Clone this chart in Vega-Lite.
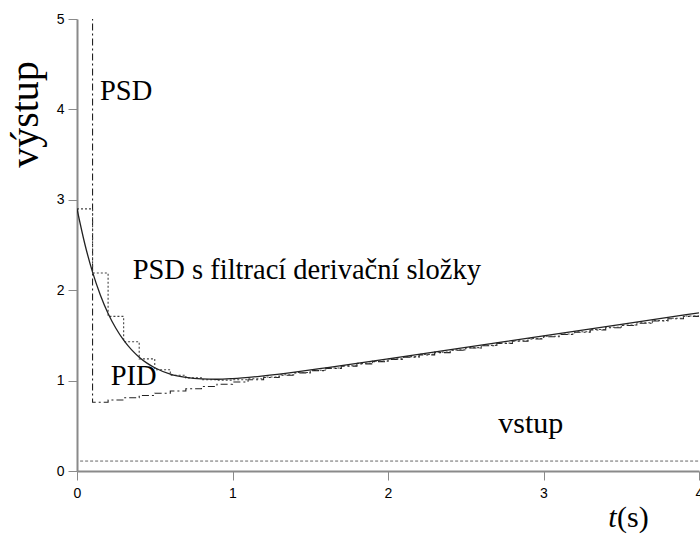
{
  "$schema": "https://vega.github.io/schema/vega-lite/v6.json",
  "width": 622,
  "height": 452,
  "autosize": {"type": "none"},
  "padding": {"left": 77, "top": 19, "right": 1, "bottom": 63},
  "background": "white",
  "config": {"view": {"stroke": null}},
  "datasets": {
    "curves": [
      {"t": 0, "y": 2.9, "s": "PID"}, {"t": 0.05, "y": 2.514, "s": "PID"}, {"t": 0.1, "y": 2.2, "s": "PID"}, {"t": 0.15, "y": 1.948, "s": "PID"},
      {"t": 0.2, "y": 1.743, "s": "PID"}, {"t": 0.25, "y": 1.579, "s": "PID"}, {"t": 0.3, "y": 1.447, "s": "PID"}, {"t": 0.35, "y": 1.342, "s": "PID"},
      {"t": 0.4, "y": 1.259, "s": "PID"}, {"t": 0.45, "y": 1.193, "s": "PID"}, {"t": 0.5, "y": 1.142, "s": "PID"}, {"t": 0.6, "y": 1.072, "s": "PID"},
      {"t": 0.7, "y": 1.035, "s": "PID"}, {"t": 0.8, "y": 1.018, "s": "PID"}, {"t": 0.9, "y": 1.015, "s": "PID"}, {"t": 1.0, "y": 1.022, "s": "PID"},
      {"t": 1.2, "y": 1.053, "s": "PID"}, {"t": 1.4, "y": 1.094, "s": "PID"}, {"t": 1.6, "y": 1.141, "s": "PID"}, {"t": 1.8, "y": 1.19, "s": "PID"},
      {"t": 2.0, "y": 1.24, "s": "PID"}, {"t": 2.5, "y": 1.368, "s": "PID"}, {"t": 3.0, "y": 1.495, "s": "PID"}, {"t": 3.5, "y": 1.623, "s": "PID"},
      {"t": 4.0, "y": 1.75, "s": "PID"},

      {"t": 0, "y": 30, "s": "PSD"}, {"t": 0.1, "y": 0.76, "s": "PSD"}, {"t": 0.2, "y": 0.785, "s": "PSD"}, {"t": 0.3, "y": 0.81, "s": "PSD"},
      {"t": 0.4, "y": 0.835, "s": "PSD"}, {"t": 0.5, "y": 0.86, "s": "PSD"}, {"t": 0.6, "y": 0.885, "s": "PSD"}, {"t": 0.7, "y": 0.91, "s": "PSD"},
      {"t": 0.8, "y": 0.935, "s": "PSD"}, {"t": 0.9, "y": 0.96, "s": "PSD"}, {"t": 1.0, "y": 0.985, "s": "PSD"}, {"t": 1.1, "y": 1.01, "s": "PSD"},
      {"t": 1.2, "y": 1.035, "s": "PSD"}, {"t": 1.3, "y": 1.06, "s": "PSD"}, {"t": 1.4, "y": 1.085, "s": "PSD"}, {"t": 1.5, "y": 1.11, "s": "PSD"},
      {"t": 1.6, "y": 1.135, "s": "PSD"}, {"t": 1.7, "y": 1.16, "s": "PSD"}, {"t": 1.8, "y": 1.185, "s": "PSD"}, {"t": 1.9, "y": 1.21, "s": "PSD"},
      {"t": 2.0, "y": 1.235, "s": "PSD"}, {"t": 2.1, "y": 1.26, "s": "PSD"}, {"t": 2.2, "y": 1.285, "s": "PSD"}, {"t": 2.3, "y": 1.31, "s": "PSD"},
      {"t": 2.4, "y": 1.335, "s": "PSD"}, {"t": 2.5, "y": 1.36, "s": "PSD"}, {"t": 2.6, "y": 1.385, "s": "PSD"}, {"t": 2.7, "y": 1.41, "s": "PSD"},
      {"t": 2.8, "y": 1.435, "s": "PSD"}, {"t": 2.9, "y": 1.46, "s": "PSD"}, {"t": 3.0, "y": 1.485, "s": "PSD"}, {"t": 3.1, "y": 1.51, "s": "PSD"},
      {"t": 3.2, "y": 1.535, "s": "PSD"}, {"t": 3.3, "y": 1.56, "s": "PSD"}, {"t": 3.4, "y": 1.585, "s": "PSD"}, {"t": 3.5, "y": 1.61, "s": "PSD"},
      {"t": 3.6, "y": 1.635, "s": "PSD"}, {"t": 3.7, "y": 1.66, "s": "PSD"}, {"t": 3.8, "y": 1.685, "s": "PSD"}, {"t": 3.9, "y": 1.71, "s": "PSD"},
      {"t": 4.0, "y": 1.735, "s": "PSD"},

      {"t": 0, "y": 2.9, "s": "PSDF"}, {"t": 0.1, "y": 2.19, "s": "PSDF"}, {"t": 0.2, "y": 1.71, "s": "PSDF"}, {"t": 0.3, "y": 1.43, "s": "PSDF"},
      {"t": 0.4, "y": 1.24, "s": "PSDF"}, {"t": 0.5, "y": 1.12, "s": "PSDF"}, {"t": 0.6, "y": 1.06, "s": "PSDF"}, {"t": 0.7, "y": 1.03, "s": "PSDF"},
      {"t": 0.8, "y": 1.01, "s": "PSDF"}, {"t": 0.9, "y": 1.005, "s": "PSDF"}, {"t": 1.0, "y": 1.01, "s": "PSDF"}, {"t": 1.1, "y": 1.02, "s": "PSDF"},
      {"t": 1.2, "y": 1.04, "s": "PSDF"}, {"t": 1.3, "y": 1.065, "s": "PSDF"}, {"t": 1.4, "y": 1.09, "s": "PSDF"}, {"t": 1.5, "y": 1.115, "s": "PSDF"},
      {"t": 1.6, "y": 1.14, "s": "PSDF"}, {"t": 1.7, "y": 1.165, "s": "PSDF"}, {"t": 1.8, "y": 1.19, "s": "PSDF"}, {"t": 1.9, "y": 1.215, "s": "PSDF"},
      {"t": 2.0, "y": 1.24, "s": "PSDF"}, {"t": 2.1, "y": 1.265, "s": "PSDF"}, {"t": 2.2, "y": 1.29, "s": "PSDF"}, {"t": 2.3, "y": 1.315, "s": "PSDF"},
      {"t": 2.4, "y": 1.34, "s": "PSDF"}, {"t": 2.5, "y": 1.365, "s": "PSDF"}, {"t": 2.6, "y": 1.39, "s": "PSDF"}, {"t": 2.7, "y": 1.415, "s": "PSDF"},
      {"t": 2.8, "y": 1.44, "s": "PSDF"}, {"t": 2.9, "y": 1.465, "s": "PSDF"}, {"t": 3.0, "y": 1.49, "s": "PSDF"}, {"t": 3.1, "y": 1.515, "s": "PSDF"},
      {"t": 3.2, "y": 1.54, "s": "PSDF"}, {"t": 3.3, "y": 1.565, "s": "PSDF"}, {"t": 3.4, "y": 1.59, "s": "PSDF"}, {"t": 3.5, "y": 1.615, "s": "PSDF"},
      {"t": 3.6, "y": 1.64, "s": "PSDF"}, {"t": 3.7, "y": 1.665, "s": "PSDF"}, {"t": 3.8, "y": 1.69, "s": "PSDF"}, {"t": 3.9, "y": 1.715, "s": "PSDF"},
      {"t": 4.0, "y": 1.74, "s": "PSDF"},

      {"t": 0.02, "y": 0.11, "s": "vstup"}, {"t": 4.0, "y": 0.11, "s": "vstup"}
    ],
    "labels": [
      {"t": 0.148, "y": 4.1, "text": "PSD"},
      {"t": 0.358, "y": 2.12, "text": "PSD s filtrací derivační složky"},
      {"t": 0.217, "y": 0.948, "text": "PID"}
    ],
    "big": [
      {"t": 2.709, "y": 0.425, "text": "vstup"},
      {"t": 3.473, "y": -0.623, "text": "(s)"}
    ],
    "ital": [
      {"t": 3.417, "y": -0.623, "text": "t"}
    ]
  },
  "encoding": {
    "x": {
      "field": "t", "type": "quantitative",
      "scale": {"domain": [0, 4], "nice": false, "zero": false},
      "axis": {
        "values": [0, 1, 2, 3, 4], "format": "d", "title": null, "grid": false,
        "domainColor": "#8a8a8a", "domainWidth": 2, "tickColor": "#8a8a8a", "tickSize": 9, "tickWidth": 1,
        "labelFont": "Liberation Sans", "labelFontSize": 14, "labelColor": "#000", "labelPadding": 6, "labelFlush": false, "labelOverlap": false
      }
    },
    "y": {
      "field": "y", "type": "quantitative",
      "scale": {"domain": [0, 5], "nice": false, "zero": false},
      "axis": {
        "values": [0, 1, 2, 3, 4, 5], "format": "d", "title": "výstup", "grid": false,
        "domainColor": "#8a8a8a", "domainWidth": 2, "tickColor": "#8a8a8a", "tickSize": 9, "tickWidth": 1,
        "labelFont": "Liberation Sans", "labelFontSize": 14, "labelColor": "#000", "labelPadding": 4, "labelFlush": false, "labelOverlap": false,
        "titleFont": "Liberation Serif", "titleFontSize": 40, "titleFontWeight": "normal", "titleColor": "#000",
        "titleX": -40, "titleY": 95, "titleAngle": 270, "titleAlign": "center", "titleBaseline": "alphabetic"
      }
    }
  },
  "layer": [
    {
      "data": {"name": "curves"},
      "transform": [{"filter": "datum.s === 'vstup'"}],
      "mark": {"type": "line", "color": "#666", "strokeWidth": 1, "strokeDash": [3, 2], "clip": true}
    },
    {
      "data": {"name": "curves"},
      "transform": [{"filter": "datum.s === 'PSD'"}],
      "mark": {"type": "line", "color": "#222", "strokeWidth": 1.1, "strokeDash": [7, 3, 2, 3], "interpolate": "step-after", "clip": true}
    },
    {
      "data": {"name": "curves"},
      "transform": [{"filter": "datum.s === 'PSDF'"}],
      "mark": {"type": "line", "color": "#444", "strokeWidth": 1.1, "strokeDash": [2, 2], "interpolate": "step-after", "clip": true}
    },
    {
      "data": {"name": "curves"},
      "transform": [{"filter": "datum.s === 'PID'"}],
      "mark": {"type": "line", "color": "#222", "strokeWidth": 1.3, "interpolate": "monotone", "clip": true}
    },
    {
      "data": {"name": "labels"},
      "mark": {"type": "text", "font": "Liberation Serif", "fontSize": 28.5, "align": "left", "baseline": "alphabetic", "color": "#000"},
      "encoding": {"text": {"field": "text"}}
    },
    {
      "data": {"name": "big"},
      "mark": {"type": "text", "font": "Liberation Serif", "fontSize": 30, "align": "left", "baseline": "alphabetic", "color": "#000"},
      "encoding": {"text": {"field": "text"}}
    },
    {
      "data": {"name": "ital"},
      "mark": {"type": "text", "font": "Liberation Serif", "fontSize": 30, "fontStyle": "italic", "align": "left", "baseline": "alphabetic", "color": "#000"},
      "encoding": {"text": {"field": "text"}}
    }
  ]
}
